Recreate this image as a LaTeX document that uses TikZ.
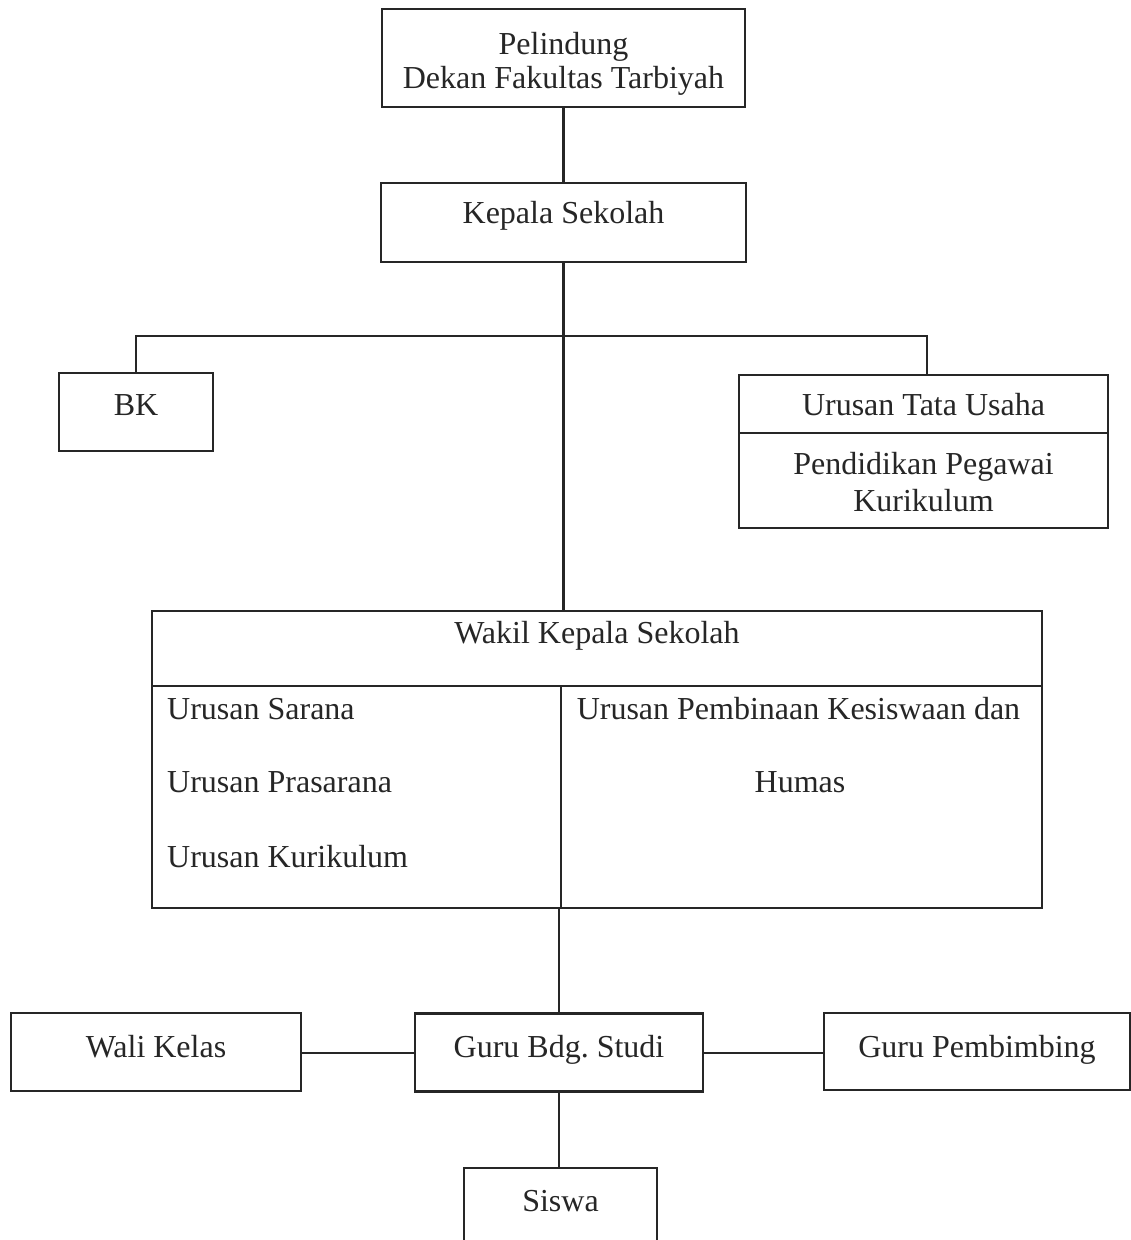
\documentclass[tikz,border=0pt]{standalone}
\usepackage{fontspec}
\setmainfont{Liberation Serif}
\definecolor{ink}{HTML}{262626}
\frenchspacing
\begin{document}
\begin{tikzpicture}[x=1pt,y=-1pt,
  box/.style={draw=ink, line width=2.2pt, inner sep=0pt, outer sep=0pt},
  lbl/.style={anchor=base, inner sep=0pt, text=ink, font=\fontsize{32}{38}\selectfont},
  lblw/.style={lbl, anchor=base west},
  conn/.style={draw=ink, line width=2.2pt}]
\useasboundingbox (0,0) rectangle (1131,1240);
\clip (0,0) rectangle (1131,1240);
\fill[white] (0,0) rectangle (1131,1240);

% boxes
\node[box, minimum width=363, minimum height=98] (pel) at (563.5,58) {};
\node[box, minimum width=365, minimum height=79] (kepala) at (563.5,222.5) {};
\node[box, minimum width=154, minimum height=78] (bk) at (136,412) {};
\node[box, minimum width=369, minimum height=153] (utu) at (923.5,451.5) {};
\node[box, minimum width=890, minimum height=297] (wakil) at (597,759.5) {};
\node[box, minimum width=290, minimum height=78] (wali) at (156,1052) {};
\node[box, minimum width=288, minimum height=78] (guru) at (559,1052.5) {};
\node[box, minimum width=306, minimum height=77] (gp) at (977,1051.5) {};
\node[box, minimum width=193, minimum height=122] (siswa) at (560.5,1229) {};

% inner dividers
\coordinate (utudiv) at (0,433);
\draw[conn] (utu.west |- utudiv) -- (utu.east |- utudiv);
\coordinate (wdiv) at (561,686);
\draw[conn] (wakil.west |- wdiv) -- (wakil.east |- wdiv);
\draw[conn] (wdiv) -- (wdiv |- wakil.south);

% texts
\node[lbl] (t1) at (563.5,54) {Pelindung};
\node[lbl] (t2) at (563.5,88) {Dekan Fakultas Tarbiyah};
\node[lbl] (t3) at (563.5,223) {Kepala Sekolah};
\node[lbl] (t4) at (136,415) {BK};
\node[lbl] (t5) at (923.5,415) {Urusan Tata Usaha};
\node[lbl] (t6) at (923.5,474) {Pendidikan Pegawai};
\node[lbl] (t7) at (923.5,511) {Kurikulum};
\node[lbl] (t8) at (597,643) {Wakil Kepala Sekolah};
\node[lblw] (t9) at (167,719) {Urusan Sarana};
\node[lblw] (t10) at (167,792) {Urusan Prasarana};
\node[lblw] (t11) at (167,867) {Urusan Kurikulum};
\node[lbl] (t12) at (798.5,719) {Urusan Pembinaan Kesiswaan dan};
\node[lbl] (t13) at (800,792) {Humas};
\node[lbl] (t14) at (156,1057) {Wali Kelas};
\node[lbl] (t15) at (559,1057) {Guru Bdg. Studi};
\node[lbl] (t16) at (977,1057) {Guru Pembimbing};
\node[lbl] (t17) at (560.5,1211) {Siswa};

% connectors
\draw[conn] (pel.south) -- (kepala.north);
\draw[conn] (kepala.south) -- (kepala.south |- wakil.north);
\coordinate (jr) at (927,336);
\draw[conn] (bk.north) -- (bk.north |- jr) -- (jr) -- (jr |- utu.north);
\draw[conn] (guru.north) -- (guru.north |- wakil.south);
\coordinate (hl) at (0,1053);
\draw[conn] (wali.east |- hl) -- (guru.west |- hl);
\draw[conn] (guru.east |- hl) -- (gp.west |- hl);
\draw[conn] (guru.south) -- (guru.south |- siswa.north);
\end{tikzpicture}
\end{document}
